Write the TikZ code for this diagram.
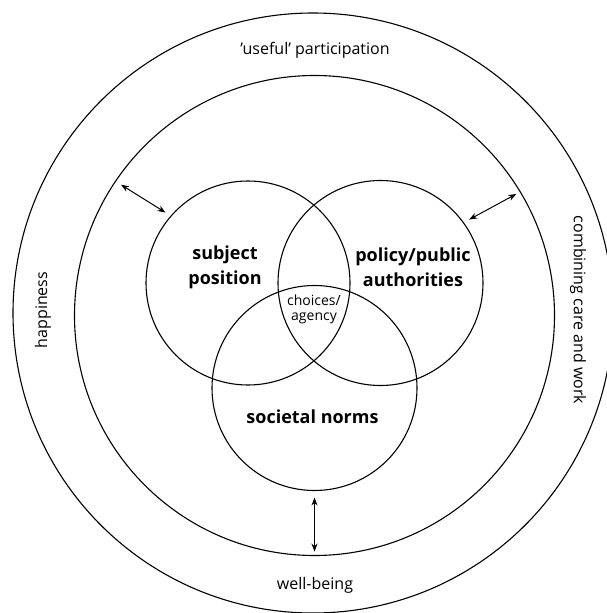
\documentclass[tikz,border=0pt]{standalone}
\usepackage{fontspec}
\setmainfont{Open Sans}
\usetikzlibrary{arrows.meta}
\begin{document}
\begin{tikzpicture}[x=1pt,y=-1pt,
  ring/.style={circle, draw, line width=1.1pt, inner sep=0pt},
  dblarrow/.style={{Stealth[length=8pt,width=6pt]}-{Stealth[length=8pt,width=6pt]}, line width=1pt},
  ringlabel/.style={font=\fontsize{16pt}{19pt}\selectfont, inner sep=0pt},
  setlabel/.style={font=\bfseries\fontsize{18pt}{25pt}\selectfont, align=center, inner sep=0pt},
  corelabel/.style={font=\fontsize{14pt}{15pt}\selectfont, align=center, inner sep=0pt}]
\useasboundingbox (0,0) rectangle (606,613);

% nested rings
\node[ring, minimum size=600pt] (outer) at (313,313) {};
\node[ring, minimum size=480pt] (inner) at (314.5,315.5) {};

% three overlapping sets
\node[ring, minimum size=204pt] (subj) at (248,283) {};
\node[ring, minimum size=205pt] (pol) at (380.5,283) {};
\node[ring, minimum size=205pt] (soc) at (314.5,388) {};

% ring labels
\node[ringlabel] (useful) at (315,50) {'useful' participation};
\node[ringlabel, rotate=90] (happy) at (43,310) {happiness};
\node[ringlabel, rotate=-90] (combine) at (578,310) {combining care and work};
\node[ringlabel] (well) at (315,585) {well-being};

% set labels
\node[setlabel] (subjlab) at (225,267.5) {subject\\position};
\node[setlabel] (pollab) at (413,267.5) {policy/public\\authorities};
\node[setlabel] (soclab) at (312.5,417) {societal norms};
\node[corelabel] (core) at (314,309) {choices/\\agency};

% interactions between the sets and the wider ring
\draw[dblarrow, shorten <=7pt, shorten >=6pt] (inner.146) -- (subj.139);
\draw[dblarrow, shorten <=5pt, shorten >=6pt] (inner.31) -- (pol.36);
\draw[dblarrow, shorten <=6.5pt, shorten >=4.5pt] (soc.south) -- (inner.south);
\end{tikzpicture}
\end{document}
